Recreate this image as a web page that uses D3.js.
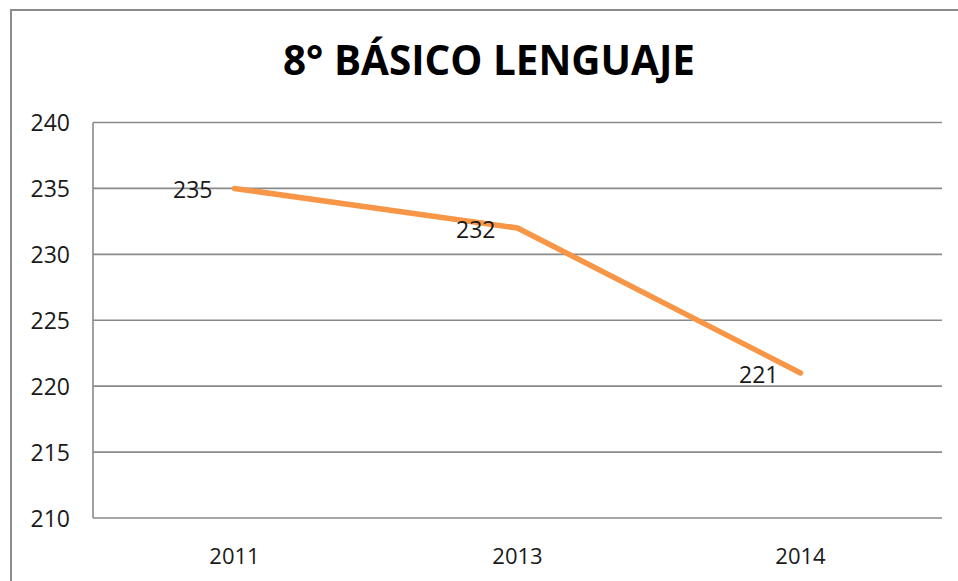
<!DOCTYPE html>
<html>
<head>
<meta charset="utf-8">
<script src="https://cdn.jsdelivr.net/npm/d3@7"></script>
<style>
  body { margin: 0; background: #fff; }
  svg { display: block; font-family: "Open Sans", sans-serif; }
</style>
</head>
<body>
<svg id="chart" width="958" height="581"></svg>
<script>
var years = ["2011", "2013", "2014"];
var scores = [235, 232, 221];
var yTicks = [210, 215, 220, 225, 230, 235, 240];
var title = "8° BÁSICO LENGUAJE";

var width = 958,
    height = 581;
var plotLeft = 93, plotRight = 942, plotTop = 122.5, plotBottom = 518;

var svg = d3.select("#chart");

// outer chart border, runs off the picture on right and bottom
svg.append("rect")
    .attr("x", 11)
    .attr("y", 10)
    .attr("width", 960)
    .attr("height", 600)
    .attr("fill", "#fff")
    .attr("stroke", "#8c8c8c")
    .attr("stroke-width", 2);

var x = d3.scaleBand()
    .domain(years)
    .range([plotLeft, plotRight]);

var y = d3.scaleLinear()
    .domain([210, 240])
    .range([plotBottom, plotTop]);

// gridlines
svg.append("g")
    .selectAll("line")
    .data(yTicks)
    .join("line")
    .attr("x1", plotLeft)
    .attr("x2", plotRight)
    .attr("y1", function(d) { return y(d); })
    .attr("y2", function(d) { return y(d); })
    .attr("stroke", "#8a8a8a")
    .attr("stroke-width", 1.6);

// left axis line
svg.append("line")
    .attr("x1", plotLeft).attr("x2", plotLeft)
    .attr("y1", plotTop).attr("y2", plotBottom)
    .attr("stroke", "#8a8a8a")
    .attr("stroke-width", 1.6);

// y labels
var yAxis = d3.axisLeft(y).tickValues(yTicks).tickSize(0).tickPadding(0);
var gy = svg.append("g")
    .attr("transform", "translate(70,0)")
    .call(yAxis);
gy.select(".domain").remove();
gy.selectAll("text")
    .attr("font-family", "Open Sans")
    .attr("font-size", 23)
    .attr("fill", "#1a1a1a")
    .attr("dy", "0.36em");

// x labels
var xAxis = d3.axisBottom(x).tickSize(0).tickPadding(0);
var gx = svg.append("g")
    .attr("transform", "translate(0,547)")
    .call(xAxis);
gx.select(".domain").remove();
gx.selectAll("text")
    .attr("font-family", "Open Sans")
    .attr("font-size", 22)
    .attr("fill", "#1a1a1a")
    .attr("dy", "0.75em");

// line
var line = d3.line()
    .x(function(d, i) { return x(years[i]) + x.bandwidth() / 2; })
    .y(function(d) { return y(d); });

svg.append("path")
    .datum(scores)
    .attr("d", line)
    .attr("fill", "none")
    .attr("stroke", "#f79646")
    .attr("stroke-width", 5.5)
    .attr("stroke-linejoin", "round")
    .attr("stroke-linecap", "round");

// data labels, to the left of each point
svg.append("g")
    .selectAll("text")
    .data(scores)
    .join("text")
    .attr("x", function(d, i) { return x(years[i]) + x.bandwidth() / 2 - 22; })
    .attr("y", function(d) { return y(d) + 10; })
    .attr("text-anchor", "end")
    .attr("font-size", 23)
    .attr("fill", "#1a1a1a")
    .text(function(d) { return d; });

// title
svg.append("text")
    .attr("x", 489)
    .attr("y", 75)
    .attr("text-anchor", "middle")
    .attr("font-size", 41)
    .attr("font-weight", "bold")
    .attr("textLength", 412)
    .attr("lengthAdjust", "spacingAndGlyphs")
    .attr("fill", "#000")
    .text(title);
</script>
</body>
</html>
